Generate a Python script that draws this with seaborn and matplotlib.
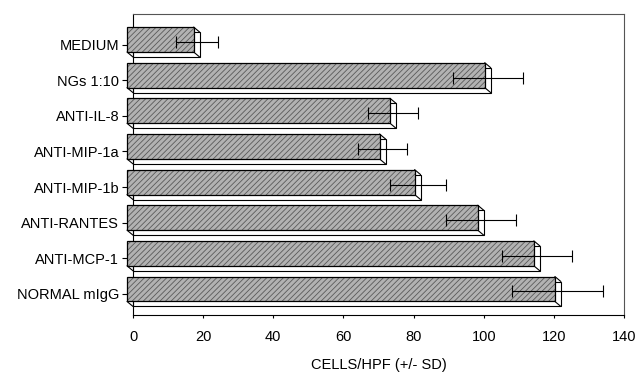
import numpy as np
import pandas as pd
import matplotlib
matplotlib.use('Agg')
import matplotlib.pyplot as plt
import matplotlib.transforms as mtransforms
import seaborn as sns

categories = ["MEDIUM", "NGs 1:10", "ANTI-IL-8", "ANTI-MIP-1a", "ANTI-MIP-1b",
              "ANTI-RANTES", "ANTI-MCP-1", "NORMAL mIgG"]
values = [19, 102, 75, 72, 82, 100, 116, 122]
sd = [6, 10, 7, 7, 8, 10, 10, 13]
x_ticks = [0, 20, 40, 60, 80, 100, 120, 140]
x_label = "CELLS/HPF (+/- SD)"

sns.set_theme(style='white')
plt.rcParams['font.family'] = ['Liberation Sans', 'DejaVu Sans']
plt.rcParams['hatch.linewidth'] = 0.6

df = pd.DataFrame({'category': categories, 'value': values, 'sd': sd})

W, H = 638, 376
fig = plt.figure(figsize=(W / 100, H / 100), dpi=100)
ax = fig.add_axes([133 / W, 1 - 315 / H, (624 - 133) / W, (315 - 14) / H])

# back (depth) faces
sns.barplot(data=df, x='value', y='category', orient='h', color='white', saturation=1,
            edgecolor='black', linewidth=0.8, width=0.7, errorbar=None, ax=ax)
n_back = len(ax.patches)
# front faces: hatched fill
sns.barplot(data=df, x='value', y='category', orient='h', color='#b2b2b2', saturation=1,
            edgecolor='#5a5a5a', linewidth=0, width=0.7, errorbar=None, hatch='//////', ax=ax)
n_fill = len(ax.patches)
# front faces: outline
sns.barplot(data=df, x='value', y='category', orient='h', color='black', saturation=1,
            fill=False, linewidth=0.9, width=0.7, errorbar=None, ax=ax)

ax.set_xlim(0, 140)
ax.set_ylim(7.59, -0.857)

front_off = mtransforms.ScaledTranslation(-6 / 100, 5 / 100, fig.dpi_scale_trans)
mid_off = mtransforms.ScaledTranslation(-3 / 100, 2.5 / 100, fig.dpi_scale_trans)

back_patches = ax.patches[:n_back]
front_patches = ax.patches[n_back:]
for p in back_patches:
    p.set_zorder(2)
    p.set_clip_on(False)
for i, p in enumerate(front_patches):
    p.set_transform(ax.transData + front_off)
    p.set_zorder(3 if i < n_fill - n_back else 3.1)
    p.set_clip_on(False)

# depth edges linking front and back corners
inv = ax.transData.inverted()
for p in back_patches:
    x0, y0, w, h = p.get_x(), p.get_y(), p.get_width(), p.get_height()
    for cx, cy in [(x0 + w, y0), (x0 + w, y0 + h), (x0, y0 + h)]:
        bd = ax.transData.transform((cx, cy))
        fd = bd + np.array([-6, 5])
        fx, fy = inv.transform(fd)
        ax.plot([fx, cx], [fy, cy], color='black', lw=0.8, zorder=2.2, clip_on=False)

# error bars
ypos = np.arange(len(categories))
eb = ax.errorbar(values, ypos, xerr=sd, fmt='none', ecolor='black', elinewidth=0.8,
                 capsize=4.3, capthick=0.8, zorder=4)
for ln in eb.lines[1]:
    ln.set_transform(ax.transData + mid_off)
    ln.set_clip_on(False)
for lc in eb.lines[2]:
    lc.set_transform(ax.transData + mid_off)
    lc.set_clip_on(False)

ax.set_xticks(x_ticks)
ax.set_xticklabels([str(t) for t in x_ticks])
for side in ['top', 'right']:
    ax.spines[side].set_color('#555555')
    ax.spines[side].set_linewidth(0.8)
for side in ['left', 'bottom']:
    ax.spines[side].set_color('black')
    ax.spines[side].set_linewidth(0.8)

ax.tick_params(axis='y', left=True, length=8, width=0.8, pad=2, direction='out',
               labelsize=10.5, colors='black')
ax.tick_params(axis='x', bottom=True, length=2, width=0.8, pad=9, direction='out',
               labelsize=10.5, colors='black')
ax.set_ylabel('')
ax.set_xlabel(x_label, fontsize=10.5, labelpad=10, color='black')

fig.savefig('out.png', dpi=100, facecolor='white')
